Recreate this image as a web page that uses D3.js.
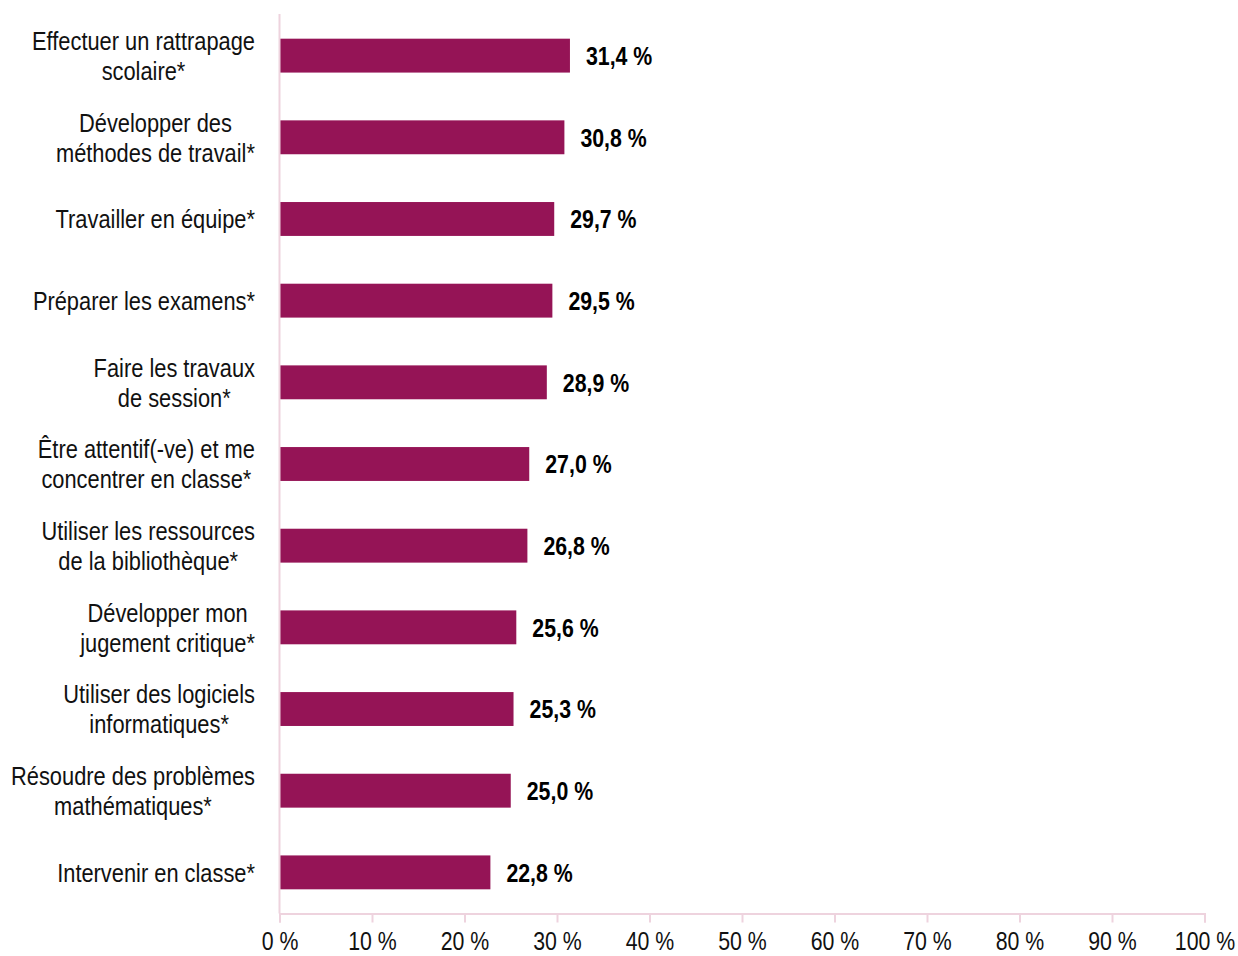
<!DOCTYPE html>
<html><head><meta charset="utf-8">
<script src="https://cdn.jsdelivr.net/npm/d3@7"></script>
<style>
html,body{margin:0;padding:0;background:#fff;}
text{font-family:"Liberation Sans Narrow","Arial Narrow","Liberation Sans",Arial,sans-serif;}
</style></head><body>
<svg id="chart" width="1238" height="956"></svg>
<script>
const categories = [
  ["Effectuer un rattrapage","scolaire*"],
  ["Développer des","méthodes de travail*"],
  ["Travailler en équipe*"],
  ["Préparer les examens*"],
  ["Faire les travaux","de session*"],
  ["Être attentif(-ve) et me","concentrer en classe*"],
  ["Utiliser les ressources","de la bibliothèque*"],
  ["Développer mon","jugement critique*"],
  ["Utiliser des logiciels","informatiques*"],
  ["Résoudre des problèmes","mathématiques*"],
  ["Intervenir en classe*"]
];
const values = [31.4, 30.8, 29.7, 29.5, 28.9, 27.0, 26.8, 25.6, 25.3, 25.0, 22.8];
const tickValues = [0,10,20,30,40,50,60,70,80,90,100];

const SX = 0.82;   // horizontal condensing to mimic a narrow font
const SXL = 0.84;  // for category labels
const FS = "26px";

const svg = d3.select("#chart");
const x = d3.scaleLinear().domain([0,100]).range([279.5,1204.5]);
const y = d3.scaleBand().domain(d3.range(values.length)).range([15,913]).paddingInner(0.585).paddingOuter(0.29);
const axisColor = "#eed3de";
const barColor = "#951456";
const fmt = v => v.toFixed(1).replace(".", ",") + " %";

// bars
svg.selectAll("rect.bar").data(values).join("rect")
  .attr("class","bar")
  .attr("x", x(0))
  .attr("y", (d,i)=>y(i))
  .attr("width", d=>x(d)-x(0))
  .attr("height", y.bandwidth())
  .attr("fill", barColor);

// value labels
svg.selectAll("g.val").data(values).join("g")
  .attr("class","val")
  .attr("transform",(d,i)=>`translate(${x(d)+16},${y(i)+y.bandwidth()/2}) scale(${SX},1)`)
  .append("text")
  .attr("dy","0.36em")
  .attr("font-size",FS)
  .attr("font-weight","bold")
  .attr("fill","#000")
  .text(d=>fmt(d));

// x axis
const xAxis = d3.axisBottom(x).tickValues(tickValues).tickFormat(d=>d+" %").tickSize(9).tickSizeOuter(9).tickPadding(9.5);
const gx = svg.append("g").attr("transform","translate(0,913.5)").call(xAxis);
gx.select(".domain").attr("stroke",axisColor).attr("stroke-width",2);
gx.selectAll(".tick line").attr("stroke",axisColor).attr("stroke-width",2);
gx.selectAll(".tick text").attr("font-size",FS).attr("fill","#111")
  .attr("transform",`scale(${SX},1)`)
  .style("font-family",'"Liberation Sans Narrow","Arial Narrow","Liberation Sans",Arial,sans-serif');

// y axis line
svg.append("line").attr("x1",x(0)).attr("x2",x(0)).attr("y1",14).attr("y2",913.5)
  .attr("stroke",axisColor).attr("stroke-width",2);

// category labels
const lineH = 30;
categories.forEach((lines,i)=>{
  const cy = y(i)+y.bandwidth()/2;
  const g = svg.append("g");
  const texts = lines.map((t,j)=>{
    const tg = g.append("g");
    const tx = tg.append("text")
      .attr("dy","0.36em")
      .attr("font-size",FS)
      .attr("fill","#111")
      .attr("text-anchor","middle")
      .text(t);
    return {tg, tx, yy: cy + (j-(lines.length-1)/2)*lineH};
  });
  const maxW = d3.max(texts, t=>t.tx.node().getComputedTextLength()) * SXL;
  texts.forEach(t=>t.tg.attr("transform",`translate(${255 - maxW/2},${t.yy}) scale(${SXL},1)`));
});
</script>
</body></html>
